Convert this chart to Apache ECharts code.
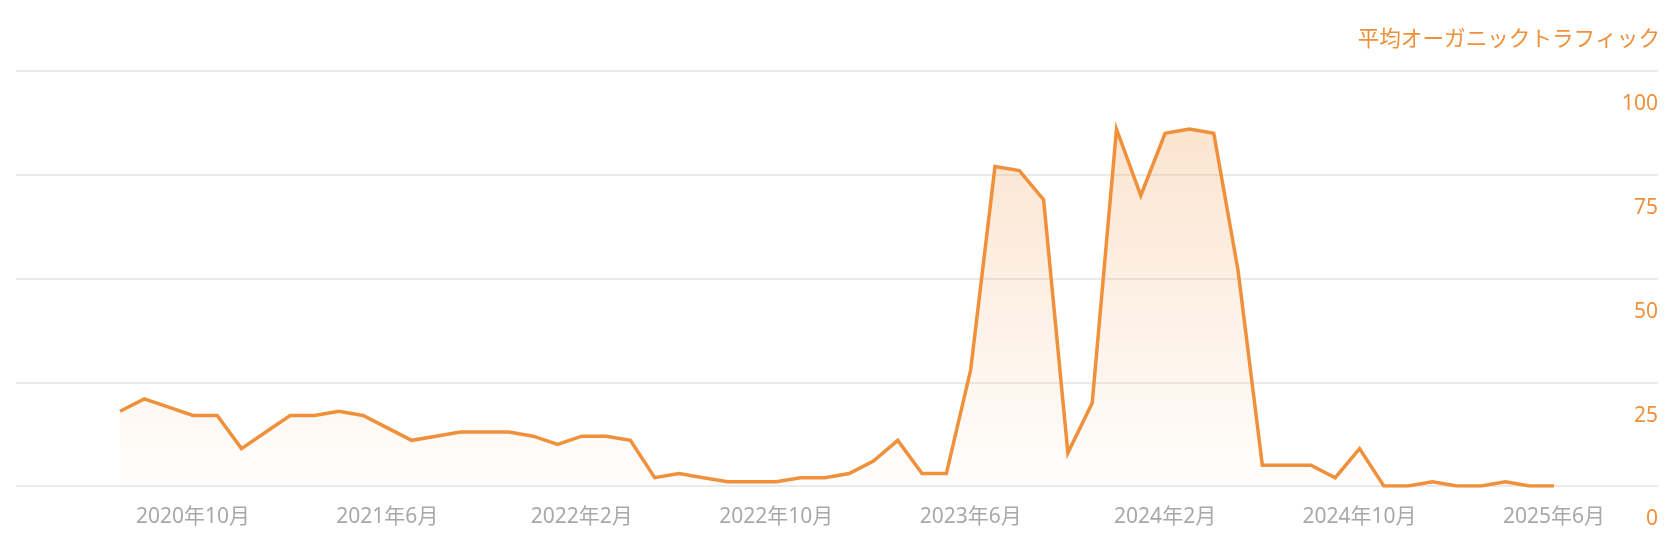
<!DOCTYPE html>
<html>
<head>
<meta charset="utf-8">
<script src="https://cdn.jsdelivr.net/npm/echarts@6/dist/echarts.min.js"></script>
<style>
html,body{margin:0;padding:0;background:#fff;}
#chart{width:1680px;height:552px;}
</style>
</head>
<body>
<div id="chart"></div>
<script>
const months = [
  '2020年7月','2020年8月','2020年9月','2020年10月','2020年11月','2020年12月',
  '2021年1月','2021年2月','2021年3月','2021年4月','2021年5月','2021年6月',
  '2021年7月','2021年8月','2021年9月','2021年10月','2021年11月','2021年12月',
  '2022年1月','2022年2月','2022年3月','2022年4月','2022年5月','2022年6月',
  '2022年7月','2022年8月','2022年9月','2022年10月','2022年11月','2022年12月',
  '2023年1月','2023年2月','2023年3月','2023年4月','2023年5月','2023年6月',
  '2023年7月','2023年8月','2023年9月','2023年10月','2023年11月','2023年12月',
  '2024年1月','2024年2月','2024年3月','2024年4月','2024年5月','2024年6月',
  '2024年7月','2024年8月','2024年9月','2024年10月','2024年11月','2024年12月',
  '2025年1月','2025年2月','2025年3月','2025年4月','2025年5月','2025年6月'
];
const traffic = [
  18, 21, 19, 17, 17, 9, 13, 17, 17, 18,
  17, 14, 11, 12, 13, 13, 13, 12, 10, 12,
  12, 11, 2, 3, 2, 1, 1, 1, 2, 2,
  3, 6, 11, 3, 3, 28, 77, 76, 69, 8,
  20, 86, 70, 85, 86, 85, 52, 5, 5, 5,
  2, 9, 0, 0, 1, 0, 0, 1, 0, 0
];
const yTicks = [0, 25, 50, 75, 100];
const seriesName = '平均オーガニックトラフィック';

const ORANGE = '#f0903a';
const FONT = '"Noto Sans", "Noto Sans CJK JP", sans-serif';
const FONT_JP = '"Noto Sans CJK JP", sans-serif';

const chart = echarts.init(document.getElementById('chart'), null, {renderer: 'canvas'});
chart.setOption({
  animation: false,
  backgroundColor: '#ffffff',
  textStyle: {fontFamily: FONT},
  title: {
    text: seriesName,
    right: 15,
    top: 22,
    textStyle: {color: ORANGE, fontSize: 21.6, fontWeight: 'normal', fontFamily: FONT_JP}
  },
  grid: [
    {left: 16, right: 22, top: 71, bottom: 66},
    {left: 120, right: 126, top: 71, bottom: 66}
  ],
  xAxis: [
    {gridIndex: 0, type: 'value', min: 0, max: 1, show: false},
    {
      gridIndex: 1,
      type: 'category',
      data: months,
      boundaryGap: false,
      axisLine: {show: false},
      axisTick: {show: false},
      axisLabel: {
        interval: (i) => (i - 3) % 8 === 0,
        color: '#a8a8a8',
        fontSize: 21,
        lineHeight: 21,
        margin: 21,
        fontFamily: FONT
      },
      splitLine: {show: false}
    }
  ],
  yAxis: [
    {
      gridIndex: 0,
      type: 'value',
      position: 'right',
      min: yTicks[0],
      max: yTicks[yTicks.length - 1],
      interval: 25,
      axisLine: {show: false},
      axisTick: {show: false},
      axisLabel: {
        inside: true,
        margin: 0,
        color: ORANGE,
        fontSize: 21,
        lineHeight: 21,
        verticalAlign: 'top',
        padding: [23, 0, 0, 0],
        fontFamily: FONT
      },
      splitLine: {show: true, lineStyle: {color: '#ebebeb', width: 2}}
    },
    {
      gridIndex: 1,
      type: 'value',
      min: yTicks[0],
      max: yTicks[yTicks.length - 1],
      show: false,
      splitLine: {show: false}
    }
  ],
  series: [{
    name: seriesName,
    type: 'line',
    xAxisIndex: 1,
    yAxisIndex: 1,
    data: traffic,
    symbol: 'none',
    lineStyle: {color: ORANGE, width: 3.5, join: 'miter'},
    itemStyle: {color: ORANGE},
    areaStyle: {
      color: new echarts.graphic.LinearGradient(0, 0, 0, 1, [
        {offset: 0, color: 'rgba(240,144,58,0.34)'},
        {offset: 1, color: 'rgba(240,144,58,0.02)'}
      ])
    }
  }]
});
</script>
</body>
</html>
